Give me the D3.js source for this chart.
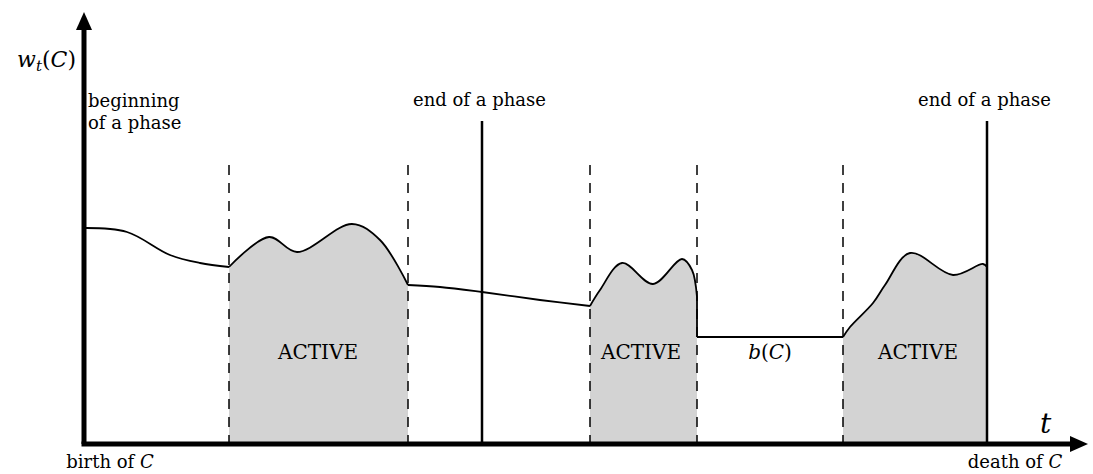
<!DOCTYPE html>
<html>
<head>
<meta charset="utf-8">
<script src="https://cdn.jsdelivr.net/npm/d3@7"></script>
<style>
  body { margin: 0; background: #fff; }
</style>
</head>
<body>
<div id="vis"></div>
<script>
// declare constants
const FRAME_WIDTH = 1093;
const FRAME_HEIGHT = 474;
const ORIGIN = {x: 84, y: 444};
const FONT = "'DejaVu Serif', serif";

// data (t along time axis, w = weight)
const DASHED_T = [14.5, 32.4, 50.6, 61.3, 75.9];
const SOLID_T = [39.8, 90.3];
const DASHED_TOP = 69.75;
const SOLID_TOP = 80.75;

const PASSIVE_1 = [[0, 54], [4.3, 53], [8.6, 47.25], [11.6, 45.25], [14.5, 44.25]];
const ACTIVE_1 = [[14.5, 44.25], [18.5, 51.75], [21.3, 48], [26.8, 55], [29.6, 51], [32.4, 39.75]];
const PASSIVE_2 = [[32.4, 39.75], [35.6, 39.25], [39.8, 38], [45.6, 36], [50.6, 34.5]];
const ACTIVE_2 = [[50.6, 34.5], [51.6, 38.5], [53.8, 45.25], [56.9, 40], [59.8, 46.25], [60.8, 43.5], [61.3, 36.75]];
const DROP = [[61.3, 36.75], [61.3, 26.75]];
const FLAT_B = [[61.3, 26.75], [75.9, 26.75]];
const ACTIVE_3 = [[75.9, 26.75], [76.6, 29.25], [78.9, 35.25], [80.1, 39.75], [82.6, 47.75], [86.9, 42.25], [89.9, 45], [90.3, 44.25]];

const ACTIVE_LABELS = [{t: 23.4, text: "ACTIVE"}, {t: 55.7, text: "ACTIVE"}, {t: 83.4, text: "ACTIVE"}];
const PHASE_END_LABELS = [{t: 32.9, text: "end of a phase"}, {t: 83.4, text: "end of a phase"}];

// scales
const X_SCALE = d3.scaleLinear().domain([0, 100]).range([ORIGIN.x, ORIGIN.x + 1000]);
const Y_SCALE = d3.scaleLinear().domain([0, 100]).range([ORIGIN.y, ORIGIN.y - 400]);

const SVG = d3.select("#vis")
  .append("svg")
    .attr("width", FRAME_WIDTH)
    .attr("height", FRAME_HEIGHT)
    .attr("font-family", FONT);

const curve = d3.line()
  .x(d => X_SCALE(d[0]))
  .y(d => Y_SCALE(d[1]))
  .curve(d3.curveCatmullRom.alpha(0.5));

const straight = d3.line()
  .x(d => X_SCALE(d[0]))
  .y(d => Y_SCALE(d[1]));

const area = d3.area()
  .x(d => X_SCALE(d[0]))
  .y0(Y_SCALE(0))
  .y1(d => Y_SCALE(d[1]))
  .curve(d3.curveCatmullRom.alpha(0.5));

// gray fill under active parts
[ACTIVE_1, ACTIVE_2, ACTIVE_3].forEach(seg => {
  SVG.append("path")
    .attr("d", area(seg))
    .attr("fill", "#d3d3d3");
});

// dashed phase boundaries
SVG.selectAll(".dash")
  .data(DASHED_T)
  .enter()
  .append("line")
    .attr("x1", d => X_SCALE(d))
    .attr("x2", d => X_SCALE(d))
    .attr("y1", Y_SCALE(DASHED_TOP))
    .attr("y2", Y_SCALE(0))
    .attr("stroke", "#000")
    .attr("stroke-width", 1.5)
    .attr("stroke-dasharray", "10,8");

// solid phase ends
SVG.selectAll(".solid")
  .data(SOLID_T)
  .enter()
  .append("line")
    .attr("x1", d => X_SCALE(d))
    .attr("x2", d => X_SCALE(d))
    .attr("y1", Y_SCALE(SOLID_TOP))
    .attr("y2", Y_SCALE(0))
    .attr("stroke", "#000")
    .attr("stroke-width", 2.5);

// weight curve
[PASSIVE_1, ACTIVE_1, PASSIVE_2, ACTIVE_2, ACTIVE_3].forEach(seg => {
  SVG.append("path")
    .attr("d", curve(seg))
    .attr("fill", "none")
    .attr("stroke", "#000")
    .attr("stroke-width", 1.8);
});
[DROP, FLAT_B].forEach(seg => {
  SVG.append("path")
    .attr("d", straight(seg))
    .attr("fill", "none")
    .attr("stroke", "#000")
    .attr("stroke-width", 1.8);
});

// axes with arrows
SVG.append("defs").append("marker")
    .attr("id", "arrow")
    .attr("viewBox", "0 0 18 16")
    .attr("refX", 2)
    .attr("refY", 8)
    .attr("markerWidth", 18)
    .attr("markerHeight", 16)
    .attr("markerUnits", "userSpaceOnUse")
    .attr("orient", "auto")
  .append("path")
    .attr("d", "M0,0 L18,8 L0,16 Z")
    .attr("fill", "#000");

SVG.append("line")
  .attr("x1", X_SCALE(0)).attr("y1", Y_SCALE(0))
  .attr("x2", X_SCALE(0)).attr("y2", Y_SCALE(104))
  .attr("stroke", "#000").attr("stroke-width", 5)
  .attr("marker-end", "url(#arrow)");

SVG.append("line")
  .attr("x1", X_SCALE(0) - 2.5).attr("y1", Y_SCALE(0))
  .attr("x2", X_SCALE(98.8)).attr("y2", Y_SCALE(0))
  .attr("stroke", "#000").attr("stroke-width", 5)
  .attr("marker-end", "url(#arrow)");

// labels
const yLab = SVG.append("text")
  .attr("x", X_SCALE(0) - 8)
  .attr("y", 67)
  .attr("text-anchor", "end")
  .attr("font-size", 22);
yLab.append("tspan").attr("font-style", "italic").text("w");
yLab.append("tspan").attr("font-style", "italic").attr("font-size", 15).attr("dy", 4).text("t");
yLab.append("tspan").attr("dy", -4).text("(");
yLab.append("tspan").attr("font-style", "italic").text("C");
yLab.append("tspan").text(")");

SVG.append("text").attr("x", X_SCALE(0) + 4).attr("y", 107).attr("font-size", 18).text("beginning");
SVG.append("text").attr("x", X_SCALE(0) + 4).attr("y", 129).attr("font-size", 18).text("of a phase");

SVG.selectAll(".endlab")
  .data(PHASE_END_LABELS)
  .enter()
  .append("text")
    .attr("x", d => X_SCALE(d.t))
    .attr("y", 106)
    .attr("font-size", 18)
    .text(d => d.text);

SVG.selectAll(".active")
  .data(ACTIVE_LABELS)
  .enter()
  .append("text")
    .attr("x", d => X_SCALE(d.t))
    .attr("y", 359)
    .attr("text-anchor", "middle")
    .attr("font-size", 20)
    .text(d => d.text);

const bLab = SVG.append("text")
  .attr("x", X_SCALE(68.6))
  .attr("y", 359)
  .attr("text-anchor", "middle")
  .attr("font-size", 20);
bLab.append("tspan").attr("font-style", "italic").text("b");
bLab.append("tspan").text("(");
bLab.append("tspan").attr("font-style", "italic").text("C");
bLab.append("tspan").text(")");

SVG.append("text")
  .attr("x", X_SCALE(95.6))
  .attr("y", 433)
  .attr("font-size", 28)
  .attr("font-style", "italic")
  .text("t");

const birth = SVG.append("text")
  .attr("x", X_SCALE(2.6)).attr("y", 468)
  .attr("text-anchor", "middle").attr("font-size", 18);
birth.append("tspan").text("birth of ");
birth.append("tspan").attr("font-style", "italic").text("C");

const death = SVG.append("text")
  .attr("x", X_SCALE(93.1)).attr("y", 468)
  .attr("text-anchor", "middle").attr("font-size", 18);
death.append("tspan").text("death of ");
death.append("tspan").attr("font-style", "italic").text("C");
</script>
</body>
</html>
